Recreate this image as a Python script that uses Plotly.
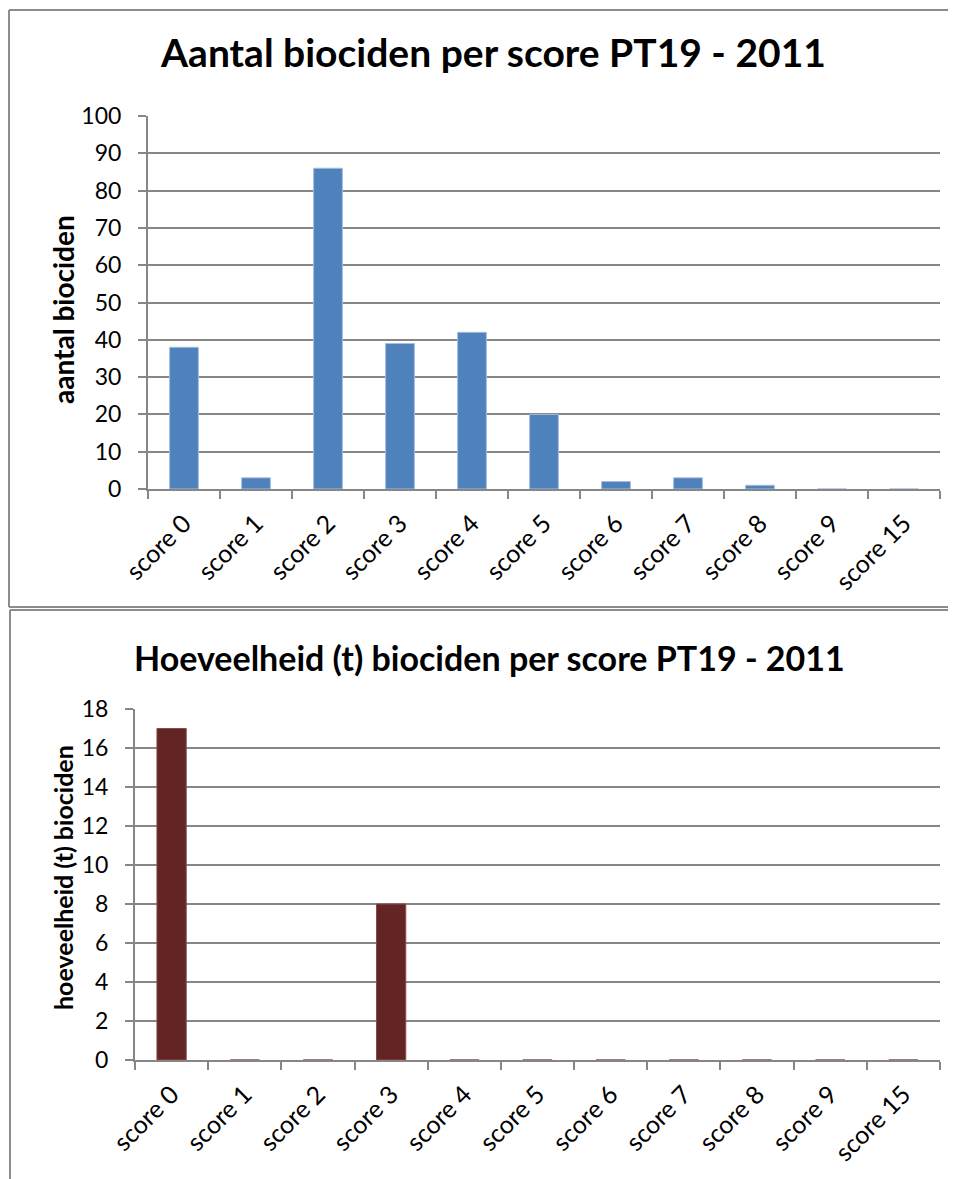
import plotly.graph_objects as go

categories = ["score 0", "score 1", "score 2", "score 3", "score 4", "score 5",
              "score 6", "score 7", "score 8", "score 9", "score 15"]
aantal = [38, 3, 86, 39, 42, 20, 2, 3, 1, 0, 0]
hoeveelheid = [17, 0, 0, 8, 0, 0, 0, 0, 0, 0, 0]

title_top = "Aantal biociden per score PT19 - 2011"
title_bottom = "Hoeveelheid (t) biociden per score PT19 - 2011"
ytitle_top = "aantal biociden"
ytitle_bottom = "hoeveelheid (t) biociden"

W, H = 956, 1179
OFF = 8  # page body margin
FONT = "Lato"
GRID = "#868686"
BORDER = "#8c8c8c"


def px(x):
    return min(max((x - OFF) / W, 0.001), 0.999)


def py(y):
    return min(max(1 - (y - OFF) / H, 0.001), 0.999)


fig = go.Figure()
fig.add_trace(go.Bar(x=categories, y=aantal, width=0.4,
                     marker=dict(color="#4F81BD", line=dict(color="#A7BFDE", width=1)),
                     xaxis="x", yaxis="y", showlegend=False))
fig.add_trace(go.Bar(x=categories, y=hoeveelheid, width=0.4,
                     marker=dict(color="#632523", line=dict(color="#8C4A48", width=1)),
                     xaxis="x2", yaxis="y2", showlegend=False))

xcommon = dict(type="category", range=[-0.5, 10.5], showline=True, linecolor=GRID,
               linewidth=2, ticks="outside", tickson="boundaries", ticklen=8,
               tickcolor=GRID, tickwidth=2, tickangle=-45, showgrid=False,
               ticklabelstandoff=8, automargin=False,
               tickfont=dict(family=FONT, size=25, color="#000"), fixedrange=True)
ycommon = dict(showline=True, linecolor=GRID, linewidth=2, ticks="outside", ticklen=8,
               tickcolor=GRID, tickwidth=2, showgrid=True, gridcolor=GRID, gridwidth=1.5,
               zeroline=False, ticklabelstandoff=12, automargin=False,
               tickfont=dict(family=FONT, size=23, color="#000"),
               fixedrange=True)


def line(x0, y0, x1, y1):
    return dict(type="line", xref="paper", yref="paper", x0=px(x0), x1=px(x1),
                y0=py(y0), y1=py(y1), line=dict(color=BORDER, width=2))


fig.update_layout(
    template="none",
    width=W, height=H, margin=dict(l=0, r=0, t=0, b=0, pad=0, autoexpand=False),
    paper_bgcolor="white", plot_bgcolor="white", showlegend=False,
    xaxis=dict(domain=[px(148), px(940)], anchor="y", **xcommon),
    yaxis=dict(domain=[py(489), py(116)], anchor="x", range=[0, 100], dtick=10, **ycommon),
    xaxis2=dict(domain=[px(135), px(940)], anchor="y2", **xcommon),
    yaxis2=dict(domain=[py(1060), py(709)], anchor="x2", range=[0, 18], dtick=2, **ycommon),
    bargap=0.6,
    shapes=[
        line(9, 10, 9, 607),
        line(9, 10, 970, 10),
        line(9, 607, 970, 607),
        line(10, 610, 970, 610),
        line(10, 610, 10, 1200),
    ],
    annotations=[
        dict(text="<b>%s</b>" % title_top, xref="paper", yref="paper", x=px(493), y=py(52),
             showarrow=False, xanchor="center", yanchor="middle",
             font=dict(family=FONT, size=39, color="#000")),
        dict(text="<b>%s</b>" % title_bottom, xref="paper", yref="paper", x=px(490), y=py(657),
             showarrow=False, xanchor="center", yanchor="middle",
             font=dict(family=FONT, size=34, color="#000")),
        dict(text="<b>%s</b>" % ytitle_top, xref="paper", yref="paper", x=px(63), y=py(310),
             showarrow=False, textangle=-90, xanchor="center", yanchor="middle",
             font=dict(family=FONT, size=28, color="#000")),
        dict(text="<b>%s</b>" % ytitle_bottom, xref="paper", yref="paper", x=px(63), y=py(878),
             showarrow=False, textangle=-90, xanchor="center", yanchor="middle",
             font=dict(family=FONT, size=25, color="#000")),
    ],
)

fig.write_html("out.html")
